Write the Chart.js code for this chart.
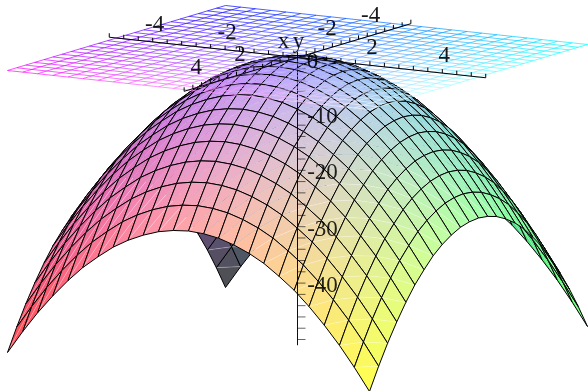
<!DOCTYPE html>
<html lang="en">
<head>
    <meta charset="UTF-8">
    <title>Paraboloid surface</title>
    <script src="https://cdn.jsdelivr.net/npm/chart.js"></script>
    <style>
        body { margin: 0; background: #fff; }
        canvas { display: block; }
    </style>
</head>
<body>
    <canvas id="surfaceChart" width="588" height="391"></canvas>

    <script>
        // grid positions along the two floor axes
        var xValues = [-5, -4.58, -4.17, -3.75, -3.33, -2.92, -2.5, -2.08, -1.67, -1.25, -0.83, -0.42, 0, 0.42, 0.83, 1.25, 1.67, 2.08, 2.5, 2.92, 3.33, 3.75, 4.17, 4.58, 5];
        var yValues = [-5, -4.58, -4.17, -3.75, -3.33, -2.92, -2.5, -2.08, -1.67, -1.25, -0.83, -0.42, 0, 0.42, 0.83, 1.25, 1.67, 2.08, 2.5, 2.92, 3.33, 3.75, 4.17, 4.58, 5];

        // surface height, one row per x value
        var zValues = [
            [-50,-46,-42.4,-39.1,-36.1,-33.5,-31.3,-29.3,-27.8,-26.6,-25.7,-25.2,-25,-25.2,-25.7,-26.6,-27.8,-29.3,-31.3,-33.5,-36.1,-39.1,-42.4,-46,-50],
            [-46,-42,-38.4,-35.1,-32.1,-29.5,-27.3,-25.3,-23.8,-22.6,-21.7,-21.2,-21,-21.2,-21.7,-22.6,-23.8,-25.3,-27.3,-29.5,-32.1,-35.1,-38.4,-42,-46],
            [-42.4,-38.4,-34.8,-31.5,-28.5,-25.9,-23.7,-21.7,-20.2,-19,-18.1,-17.6,-17.4,-17.6,-18.1,-19,-20.2,-21.7,-23.7,-25.9,-28.5,-31.5,-34.8,-38.4,-42.4],
            [-39.1,-35.1,-31.5,-28.2,-25.2,-22.6,-20.4,-18.4,-16.9,-15.7,-14.8,-14.3,-14.1,-14.3,-14.8,-15.7,-16.9,-18.4,-20.4,-22.6,-25.2,-28.2,-31.5,-35.1,-39.1],
            [-36.1,-32.1,-28.5,-25.2,-22.2,-19.6,-17.4,-15.4,-13.9,-12.7,-11.8,-11.3,-11.1,-11.3,-11.8,-12.7,-13.9,-15.4,-17.4,-19.6,-22.2,-25.2,-28.5,-32.1,-36.1],
            [-33.5,-29.5,-25.9,-22.6,-19.6,-17,-14.8,-12.8,-11.3,-10.1,-9.2,-8.7,-8.5,-8.7,-9.2,-10.1,-11.3,-12.8,-14.8,-17,-19.6,-22.6,-25.9,-29.5,-33.5],
            [-31.3,-27.3,-23.7,-20.4,-17.4,-14.8,-12.6,-10.6,-9.1,-7.9,-7,-6.5,-6.3,-6.5,-7,-7.9,-9.1,-10.6,-12.6,-14.8,-17.4,-20.4,-23.7,-27.3,-31.3],
            [-29.3,-25.3,-21.7,-18.4,-15.4,-12.8,-10.6,-8.6,-7.1,-5.9,-5,-4.5,-4.3,-4.5,-5,-5.9,-7.1,-8.6,-10.6,-12.8,-15.4,-18.4,-21.7,-25.3,-29.3],
            [-27.8,-23.8,-20.2,-16.9,-13.9,-11.3,-9.1,-7.1,-5.6,-4.4,-3.5,-3,-2.8,-3,-3.5,-4.4,-5.6,-7.1,-9.1,-11.3,-13.9,-16.9,-20.2,-23.8,-27.8],
            [-26.6,-22.6,-19,-15.7,-12.7,-10.1,-7.9,-5.9,-4.4,-3.2,-2.3,-1.8,-1.6,-1.8,-2.3,-3.2,-4.4,-5.9,-7.9,-10.1,-12.7,-15.7,-19,-22.6,-26.6],
            [-25.7,-21.7,-18.1,-14.8,-11.8,-9.2,-7,-5,-3.5,-2.3,-1.4,-0.9,-0.7,-0.9,-1.4,-2.3,-3.5,-5,-7,-9.2,-11.8,-14.8,-18.1,-21.7,-25.7],
            [-25.2,-21.2,-17.6,-14.3,-11.3,-8.7,-6.5,-4.5,-3,-1.8,-0.9,-0.4,-0.2,-0.4,-0.9,-1.8,-3,-4.5,-6.5,-8.7,-11.3,-14.3,-17.6,-21.2,-25.2],
            [-25,-21,-17.4,-14.1,-11.1,-8.5,-6.3,-4.3,-2.8,-1.6,-0.7,-0.2,0,-0.2,-0.7,-1.6,-2.8,-4.3,-6.3,-8.5,-11.1,-14.1,-17.4,-21,-25],
            [-25.2,-21.2,-17.6,-14.3,-11.3,-8.7,-6.5,-4.5,-3,-1.8,-0.9,-0.4,-0.2,-0.4,-0.9,-1.8,-3,-4.5,-6.5,-8.7,-11.3,-14.3,-17.6,-21.2,-25.2],
            [-25.7,-21.7,-18.1,-14.8,-11.8,-9.2,-7,-5,-3.5,-2.3,-1.4,-0.9,-0.7,-0.9,-1.4,-2.3,-3.5,-5,-7,-9.2,-11.8,-14.8,-18.1,-21.7,-25.7],
            [-26.6,-22.6,-19,-15.7,-12.7,-10.1,-7.9,-5.9,-4.4,-3.2,-2.3,-1.8,-1.6,-1.8,-2.3,-3.2,-4.4,-5.9,-7.9,-10.1,-12.7,-15.7,-19,-22.6,-26.6],
            [-27.8,-23.8,-20.2,-16.9,-13.9,-11.3,-9.1,-7.1,-5.6,-4.4,-3.5,-3,-2.8,-3,-3.5,-4.4,-5.6,-7.1,-9.1,-11.3,-13.9,-16.9,-20.2,-23.8,-27.8],
            [-29.3,-25.3,-21.7,-18.4,-15.4,-12.8,-10.6,-8.6,-7.1,-5.9,-5,-4.5,-4.3,-4.5,-5,-5.9,-7.1,-8.6,-10.6,-12.8,-15.4,-18.4,-21.7,-25.3,-29.3],
            [-31.3,-27.3,-23.7,-20.4,-17.4,-14.8,-12.6,-10.6,-9.1,-7.9,-7,-6.5,-6.3,-6.5,-7,-7.9,-9.1,-10.6,-12.6,-14.8,-17.4,-20.4,-23.7,-27.3,-31.3],
            [-33.5,-29.5,-25.9,-22.6,-19.6,-17,-14.8,-12.8,-11.3,-10.1,-9.2,-8.7,-8.5,-8.7,-9.2,-10.1,-11.3,-12.8,-14.8,-17,-19.6,-22.6,-25.9,-29.5,-33.5],
            [-36.1,-32.1,-28.5,-25.2,-22.2,-19.6,-17.4,-15.4,-13.9,-12.7,-11.8,-11.3,-11.1,-11.3,-11.8,-12.7,-13.9,-15.4,-17.4,-19.6,-22.2,-25.2,-28.5,-32.1,-36.1],
            [-39.1,-35.1,-31.5,-28.2,-25.2,-22.6,-20.4,-18.4,-16.9,-15.7,-14.8,-14.3,-14.1,-14.3,-14.8,-15.7,-16.9,-18.4,-20.4,-22.6,-25.2,-28.2,-31.5,-35.1,-39.1],
            [-42.4,-38.4,-34.8,-31.5,-28.5,-25.9,-23.7,-21.7,-20.2,-19,-18.1,-17.6,-17.4,-17.6,-18.1,-19,-20.2,-21.7,-23.7,-25.9,-28.5,-31.5,-34.8,-38.4,-42.4],
            [-46,-42,-38.4,-35.1,-32.1,-29.5,-27.3,-25.3,-23.8,-22.6,-21.7,-21.2,-21,-21.2,-21.7,-22.6,-23.8,-25.3,-27.3,-29.5,-32.1,-35.1,-38.4,-42,-46],
            [-50,-46,-42.4,-39.1,-36.1,-33.5,-31.3,-29.3,-27.8,-26.6,-25.7,-25.2,-25,-25.2,-25.7,-26.6,-27.8,-29.3,-31.3,-33.5,-36.1,-39.1,-42.4,-46,-50]
        ];

        // axis ticks and their labels
        var floorTicks = [-5.2, -4.8, -4.4, -4, -3.6, -3.2, -2.8, -2.4, -2, -1.6, -1.2, -0.8, -0.4, 0, 0.4, 0.8, 1.2, 1.6, 2, 2.4, 2.8, 3.2, 3.6, 4, 4.4, 4.8, 5.2];
        var heightTicks = [0, -2, -4, -6, -8, -10, -12, -14, -16, -18, -20, -22, -24, -26, -28, -30, -32, -34, -36, -38, -40, -42, -44, -46, -48, -50];
        var xLabels = [-4, -2, 2, 4];
        var yLabels = [-4, -2, 2, 4];
        var zLabels = [-10, -20, -30, -40];

        // projection onto the picture, in pixels per unit
        var origin = { x: 297.5, y: 57.5 };
        var xStep = { x: 36.2, y: 3.9 };
        var yStep = { x: -21.8, y: 6.5 };
        var zStep = 5.64;

        function project(u, v, w) {
            return {
                x: origin.x + u * xStep.x + v * yStep.x,
                y: origin.y + u * xStep.y + v * yStep.y - w * zStep
            };
        }

        // red follows y, green follows x, blue follows height
        function rgb(u, v, w) {
            return [255 * (v + 5) / 10, 255 * (u + 5) / 10, 255 * (1 + w / 50)];
        }

        // solid colour the surface has on white, it does not show through itself
        function solidColour(u, v, w) {
            var c = rgb(u, v, w).map(function (n) { return Math.round(0.7 * n + 0.3 * 255); });
            return "rgb(" + c.join(",") + ")";
        }

        function meshColour(u, v) {
            var c = rgb(u, v, 0).map(Math.round);
            return "rgba(" + c.join(",") + ",0.7)";
        }

        function vertex(i, j) {
            return { u: xValues[i], v: yValues[j], w: zValues[i][j] };
        }

        function triangle(p, q, s) {
            var c = solidColour((p.u + q.u + s.u) / 3, (p.v + q.v + s.v) / 3, (p.w + q.w + s.w) / 3);
            return {
                data: [p, q, s].map(function (d) { return project(d.u, d.v, d.w); }),
                fill: "shape", backgroundColor: c, borderWidth: 0, pointRadius: 0, clip: false
            };
        }

        function outline(points, color, width) {
            return { data: points, fill: false, borderColor: color, borderWidth: width, pointRadius: 0, clip: false };
        }

        function onScreen(p) {
            return project(p.u, p.v, p.w);
        }

        // datasets are listed back to front here, reversed at the end for Chart.js
        var layers = [];

        // surface patches, far corner first
        for (var i = 0; i < xValues.length - 1; i++) {
            for (var j = 0; j < yValues.length - 1; j++) {
                var a = vertex(i, j), b = vertex(i + 1, j), c = vertex(i + 1, j + 1), d = vertex(i, j + 1);
                layers.push(triangle(a, b, d));
                layers.push(triangle(b, c, d));
                // pale seam along the patch diagonal
                layers.push(outline([b, d].map(onScreen), "rgba(255,255,255,0.25)", 1));
                layers.push(outline([a, b, c, d, a].map(onScreen), "#000", 1));
            }
        }

        // vertical axis, faded where the surface lies over it
        layers.push(outline([project(0, 0, 1), project(0, 0, -51)], "rgba(0,0,0,0.6)", 1));
        heightTicks.forEach(function (t) {
            var p = project(0, 0, t);
            layers.push(outline([p, { x: p.x + 8, y: p.y }], "rgba(0,0,0,0.6)", 1));
        });

        // colour mesh at height zero
        function meshLine(points) {
            return {
                data: points.map(function (p) { return project(p.u, p.v, 0); }),
                fill: false, borderWidth: 1, pointRadius: 0, clip: false,
                borderColor: "#888",
                segment: {
                    borderColor: function (ctx) {
                        var m = points[ctx.p0DataIndex], n = points[ctx.p1DataIndex];
                        return meshColour((m.u + n.u) / 2, (m.v + n.v) / 2);
                    }
                }
            };
        }
        xValues.forEach(function (u) {
            layers.push(meshLine(yValues.map(function (v) { return { u: u, v: v }; })));
        });
        yValues.forEach(function (v) {
            layers.push(meshLine(xValues.map(function (u) { return { u: u, v: v }; })));
        });

        // floor axes with their ticks on top
        layers.push(outline([project(-5.2, 0, 0), project(5.2, 0, 0)], "#000", 1));
        layers.push(outline([project(0, -5.2, 0), project(0, 5.2, 0)], "#000", 1));
        floorTicks.forEach(function (t) {
            var p = project(t, 0, 0), q = project(0, t, 0);
            layers.push(outline([p, { x: p.x, y: p.y - 4 }], "#000", 1));
            layers.push(outline([q, { x: q.x, y: q.y - 4 }], "#000", 1));
        });

        var axisText = {
            id: "axisText",
            afterDatasetsDraw: function (chart) {
                var ctx = chart.ctx, sx = chart.scales.x, sy = chart.scales.y;
                function put(text, p, dx, dy, alpha) {
                    ctx.globalAlpha = alpha;
                    ctx.fillText(text, sx.getPixelForValue(p.x) + dx, sy.getPixelForValue(p.y) + dy);
                }
                ctx.save();
                ctx.font = '23px "Liberation Serif"';
                ctx.fillStyle = "#000";
                ctx.textAlign = "center";
                ctx.textBaseline = "middle";
                xLabels.forEach(function (t) { put(String(t), project(t, 0, 0), 2, -17, 0.9); });
                yLabels.forEach(function (t) { put(String(t), project(0, t, 0), -14, -16, 0.9); });
                zLabels.forEach(function (t) { put(String(t), project(0, 0, t), 25, 3, 0.85); });
                put("0", project(0, 0, 0), 15, 4, 0.9);
                put("x", project(0, 0, 0), -14, -16, 0.9);
                put("y", project(0, 0, 0), 1, -16, 0.9);
                ctx.restore();
            }
        };

        new Chart(document.getElementById("surfaceChart").getContext("2d"), {
            type: "line",
            data: { datasets: layers.reverse() },
            plugins: [axisText],
            options: {
                responsive: false,
                animation: false,
                events: [],
                layout: { padding: 0 },
                elements: { line: { tension: 0 } },
                plugins: { legend: { display: false }, tooltip: { enabled: false } },
                scales: {
                    x: { type: "linear", min: 0, max: 588, display: false },
                    y: { type: "linear", min: 0, max: 391, reverse: true, display: false }
                }
            }
        });
    </script>
</body>
</html>
